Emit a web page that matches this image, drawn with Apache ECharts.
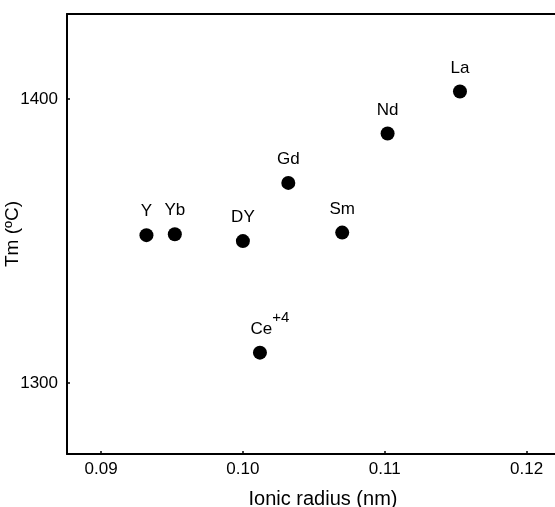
<!DOCTYPE html>
<html><head><meta charset="utf-8">
<script src="https://cdn.jsdelivr.net/npm/echarts@6/dist/echarts.min.js"></script>
<style>html,body{margin:0;padding:0;background:#fff}#c{width:555px;height:507px}</style>
</head><body><div id="c"></div>
<script>
const names = ['Y','Yb','DY','Gd','Sm','Ce+4','Nd','La'];
const radius = [0.0932,0.0952,0.1000,0.1032,0.1070,0.1012,0.1102,0.1153];
const tm = [1352.1,1352.4,1350.0,1370.5,1353.0,1310.7,1387.9,1402.7];
const xTicks = [0.09,0.10,0.11,0.12];
const yTicks = [1300,1400];

const data = names.map((n,i)=>{
  const d = {value:[radius[i],tm[i]],name:n};
  if(n==='Ce+4') d.label = {offset:[10,0]};
  return d;
});
const font = 'Liberation Sans, Arial, sans-serif';
const chart = echarts.init(document.getElementById('c'));
chart.setOption({
  animation:false,
  grid:{left:67,top:14,right:0,bottom:53,containLabel:false,outerBoundsMode:'none'},
  xAxis:[{
    type:'value',min:0.0876,max:0.122,
    axisLine:{lineStyle:{color:'#000',width:2}},
    axisTick:{inside:true,length:3,customValues:xTicks,lineStyle:{color:'#000',width:1.5}},
    axisLabel:{customValues:xTicks,formatter:v=>v.toFixed(2),color:'#000',fontSize:17,fontFamily:font,margin:7},
    splitLine:{show:false},
    name:'Ionic radius (nm)',nameLocation:'middle',nameGap:35,nameMoveOverlap:false,
    nameTextStyle:{color:'#000',fontSize:20,fontFamily:font,padding:[0,0,0,24]}
  },{
    type:'value',position:'top',min:0.0876,max:0.122,
    axisLine:{show:true,lineStyle:{color:'#000',width:2}},
    axisTick:{show:false},axisLabel:{show:false},splitLine:{show:false}
  }],
  yAxis:{
    type:'value',min:1275,max:1430,
    axisLine:{show:true,lineStyle:{color:'#000',width:2}},
    axisTick:{show:true,inside:true,length:3,customValues:yTicks,lineStyle:{color:'#000',width:1.5}},
    axisLabel:{customValues:yTicks,formatter:v=>String(v),color:'#000',fontSize:17,fontFamily:font,margin:9},
    splitLine:{show:false},
    name:'Tm (ºC)',nameLocation:'middle',nameGap:45,nameRotate:90,nameMoveOverlap:false,
    nameTextStyle:{color:'#000',fontSize:19,fontFamily:font}
  },
  series:[{
    type:'scatter',data:data,symbolSize:14,
    itemStyle:{color:'#000',opacity:1},
    label:{show:true,position:'top',distance:8,color:'#000',fontSize:17,fontFamily:font,
      formatter:p=>p.name==='Ce+4'?'{b|Ce}{s|+4}':p.name,
      rich:{b:{fontSize:17,fontFamily:font,color:'#000',verticalAlign:'bottom',padding:[10,0,0,0]},
            s:{fontSize:15,fontFamily:font,color:'#000',verticalAlign:'top'}}}
  }]
});
</script></body></html>
